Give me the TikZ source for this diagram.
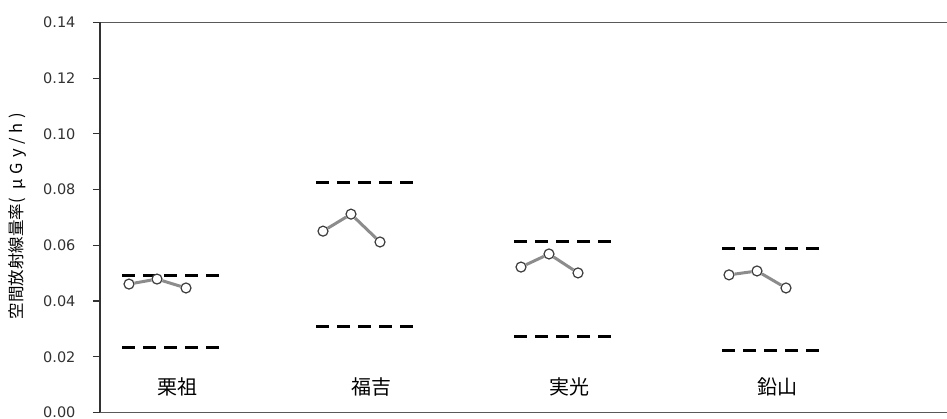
\documentclass[tikz,border=0pt]{standalone}
\usepackage{fontspec}
\setmainfont{DejaVu Sans}
\newfontfamily\jpfont{Noto Sans CJK JP}
\newfontfamily\jpwide[LetterSpace=30]{Noto Sans CJK JP}
\definecolor{framegray}{RGB}{89, 89, 89}
\definecolor{axisdark}{RGB}{50, 50, 50}
\definecolor{linegray}{RGB}{140, 140, 140}
\definecolor{markgray}{RGB}{60, 60, 60}
\tikzset{
  ptmark/.style={circle, draw=markgray, fill=white, line width=1.2pt, inner sep=0pt, minimum size=10pt},
  trendline/.style={linegray, line width=3pt},
  limitdash/.style={black, line width=3pt, dash pattern=on 13pt off 8pt},
  ticklabel/.style={anchor=east, text=axisdark, font=\fontsize{14.5}{16}\selectfont},
  sitelabel/.style={font=\jpfont\fontsize{20}{22}\selectfont}
}

\begin{document}
\begin{tikzpicture}[x=1pt, y=1pt]
            \useasboundingbox (-100,-6.5) rectangle (847,412.5);
            \draw[framegray, line width=1.6pt] (0,390) -- (847,390);
            \draw[framegray, line width=1.6pt] (0,0) -- (847,0);
            \draw[axisdark, line width=1.4pt] (0,0) -- (0,390);
            \foreach \v in {0.00,0.02,0.04,0.06,0.08,0.10,0.12,0.14}{
                \draw[axisdark, line width=1.2pt] (-7,\v*2786) -- (0,\v*2786);
                \node[ticklabel] at (-21,\v*2786) {\v};
            }
            \node[rotate=90, font=\jpfont\fontsize{16.5}{18}\selectfont] (ytitle) at (-83,196.5)
                {空間放射線量率{\jpwide ( μGy/h)}};
            \foreach \s/\lo/\hi/\a/\b/\c/\name/\id in {22/0.0232/0.0492/0.0461/0.0479/0.0447/栗祖/g1,
                      216/0.0310/0.0827/0.0651/0.0712/0.0612/福吉/g2,
                      414/0.0271/0.0612/0.0522/0.0569/0.0501/実光/g3,
                      622/0.0221/0.0587/0.0494/0.0508/0.0447/鉛山/g4}{
                \draw[limitdash] (\s,\lo*2786) -- ++(98,0);
                \draw[limitdash] (\s,\hi*2786) -- ++(98,0);
                \node[ptmark] (\id-a) at (\s+7,\a*2786) {};
                \node[ptmark] (\id-b) at (\s+35,\b*2786) {};
                \node[ptmark] (\id-c) at (\s+64,\c*2786) {};
                \draw[trendline] (\id-a) -- (\id-b) -- (\id-c);
                \node[sitelabel] (\id-name) at (\s+55,25.5) {\name};
            }
        \end{tikzpicture}
\end{document}
